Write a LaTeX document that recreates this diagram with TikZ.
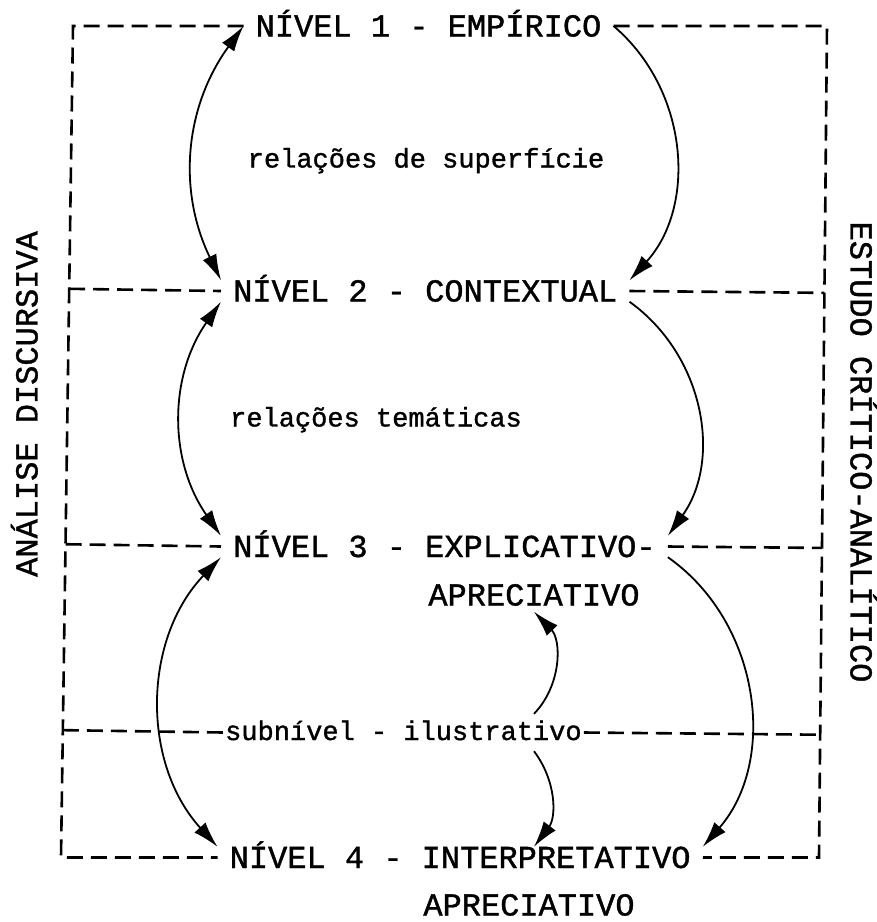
\documentclass[tikz,border=0pt]{standalone}
\usepackage{fontspec}
\newfontfamily\maquina[FakeBold=1.2]{Liberation Mono}
\usetikzlibrary{positioning,calc,arrows.meta}

\tikzset{
  nivel/.style={font=\maquina\fontsize{32}{38}\selectfont, inner xsep=12pt, inner ysep=0pt, text height=21pt, text depth=0pt},
  minusc/.style={font=\maquina\fontsize{27}{32}\selectfont, inner xsep=2pt, inner ysep=6pt, text height=20pt, text depth=5pt},
  lateral/.style={font=\maquina\fontsize{32}{38}\selectfont, inner sep=0pt, text height=21pt, text depth=0pt},
  moldura/.style={line width=2.6pt, dash pattern=on 16pt off 8pt},
  ponta/.tip={Latex[length=26pt,width=15pt]},
  seta/.style={line width=1.8pt, -ponta},
  seta2/.style={line width=1.8pt, ponta-ponta},
}

\begin{document}
\begin{tikzpicture}[x=1pt,y=-1pt]
      \useasboundingbox (0,0) rectangle (877,922);

      % niveis
      \node[nivel, anchor=west] (n1) at (243.5,26) {NÍVEL 1 - EMPÍRICO};
      \node[nivel, anchor=west] (n2) at (221,291) {NÍVEL 2 - CONTEXTUAL};
      \node[nivel, anchor=west] (n3) at (221,546.5) {NÍVEL 3 - EXPLICATIVO-};
      \node[nivel, inner ysep=6pt] (a3) at (534,595) {APRECIATIVO};
      \node[minusc, anchor=west] (sub) at (223,732.5) {subnível - ilustrativo};
      \node[nivel, anchor=west] (n4) at (217.5,857.5) {NÍVEL 4 - INTERPRETATIVO};
      \node[nivel] (a4) at (529,905) {APRECIATIVO};

      \node[minusc] (rel1) at (426,160) {relações de superfície};
      \node[minusc] (rel2) at (376,419) {relações temáticas};

      \node[lateral, rotate=90] (esq) at (27,404) {ANÁLISE DISCURSIVA};
      \node[lateral, rotate=-90] (dir) at (861,452) {ESTUDO CRÍTICO-ANALÍTICO};

      % moldura tracejada
      \coordinate (tl) at (73,26);
      \coordinate (bl) at (61,857.5);
      \coordinate (tr) at (827,26);
      \coordinate (br) at (819,857.5);

      \draw[moldura] (n1.west) -- (tl) -- (bl) -- (n4.west);
      \draw[moldura] (n1.east) -- (tr) -- (br) -- (n4.east);

      \draw[moldura] ($(tl)!(n2.west)!(bl)$) -- (n2.west);
      \draw[moldura] ($(tl)!(n3.west)!(bl)$) -- (n3.west);
      \draw[moldura] ($(tl)!(sub.west)!(bl)$) -- (sub.west);
      \draw[moldura] (n2.east) -- ($(tr)!(n2.east)!(br)$);
      \draw[moldura] (n3.east) -- ($(tr)!(n3.east)!(br)$);
      \draw[moldura] (sub.east) -- ($(tr)!(sub.east)!(br)$);

      % relacoes a esquerda
      \draw[seta2] (n1.west) to[bend right=31] (n2.north west);
      \draw[seta2] (n2.south west) to[bend right=35] (n3.north west);
      \draw[seta2] (n3.south west) to[bend right=43] (n4.north west);

      % relacoes a direita
      \draw[seta] (n1.east) to[bend left=46] (n2.north east);
      \draw[seta] (n2.south east) to[bend left=45] (n3.north east);
      \draw[seta] (n3.south east) to[bend left=48] (n4.north east);

      % subnivel
      \draw[seta] (sub.north -| a3.south) to[bend right=44] (a3.south);
      \draw[seta] (sub.south -| a3.south) to[bend left=37] (n4.north -| a3.south);

\end{tikzpicture}
\end{document}
